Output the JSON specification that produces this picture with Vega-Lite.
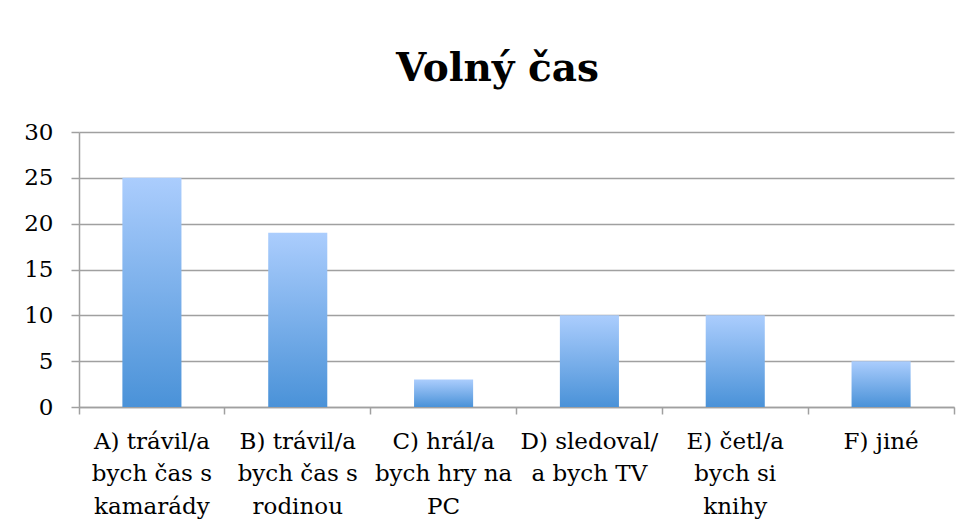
{
  "$schema": "https://vega.github.io/schema/vega-lite/v6.json",
  "width": 875,
  "height": 275,
  "autosize": {"type": "none"},
  "padding": {"left": 79, "top": 132, "right": 22, "bottom": 123},
  "background": "white",
  "title": {
    "text": "Volný čas",
    "font": "DejaVu Serif",
    "fontSize": 39,
    "fontWeight": "bold",
    "color": "black",
    "anchor": "middle",
    "frame": "group",
    "dx": -19,
    "baseline": "alphabetic",
    "offset": 1
  },
  "data": {
    "values": [
      {"label": "A) trávil/a|bych čas s|kamarády", "value": 25},
      {"label": "B) trávil/a|bych čas s|rodinou", "value": 19},
      {"label": "C) hrál/a|bych hry na|PC", "value": 3},
      {"label": "D) sledoval/|a bych TV", "value": 10},
      {"label": "E) četl/a|bych si|knihy", "value": 10},
      {"label": "F) jiné", "value": 5}
    ]
  },
  "mark": {
    "type": "bar",
    "width": {"band": 0.405},
    "color": {
      "gradient": "linear",
      "x1": 0, "y1": 0, "x2": 0, "y2": 1,
      "stops": [
        {"offset": 0, "color": "#abcdfd"},
        {"offset": 1, "color": "#4a92d8"}
      ]
    }
  },
  "encoding": {
    "x": {
      "field": "label",
      "type": "nominal",
      "sort": null,
      "scale": {"paddingInner": 0, "paddingOuter": 0},
      "axis": {
        "title": null,
        "labelAngle": 0,
        "labelExpr": "split(datum.label, '|')",
        "labelFont": "DejaVu Serif",
        "labelFontSize": 23,
        "labelColor": "black",
        "labelLineHeight": 32.5,
        "labelPadding": 16,
        "labelBaseline": "top",
        "bandPosition": 1,
        "tickExtra": true,
        "ticks": true,
        "tickSize": 7,
        "tickColor": "#a0a0a0",
        "tickWidth": 1.5,
        "domainColor": "#a0a0a0",
        "domainWidth": 1.5,
        "grid": false
      }
    },
    "y": {
      "field": "value",
      "type": "quantitative",
      "scale": {"domain": [0, 30], "nice": false},
      "axis": {
        "title": null,
        "values": [0, 5, 10, 15, 20, 25, 30],
        "labelFont": "DejaVu Serif",
        "labelFontSize": 23,
        "labelColor": "black",
        "labelPadding": 18,
        "tickSize": 8,
        "tickColor": "#a0a0a0",
        "tickWidth": 1.5,
        "domainColor": "#a0a0a0",
        "domainWidth": 1.5,
        "grid": true,
        "gridColor": "#a0a0a0",
        "gridWidth": 1.5
      }
    }
  },
  "config": {
    "view": {"stroke": null}
  }
}
